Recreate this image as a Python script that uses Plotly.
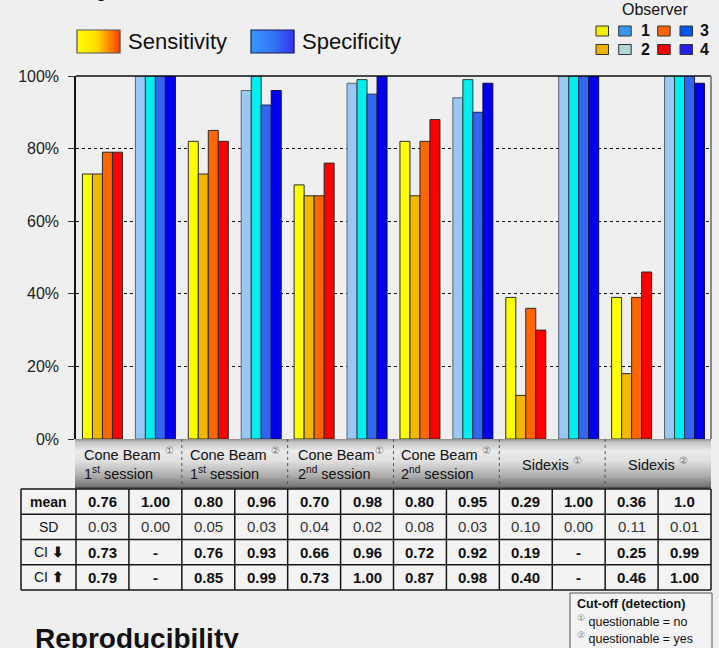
import plotly.graph_objects as go

# ---------------- data ----------------
group_line1 = [
    "Cone Beam <sup><span style='color:#777'>①</span></sup>",
    "Cone Beam <sup><span style='color:#777'>②</span></sup>",
    "Cone Beam<sup><span style='color:#777'>①</span></sup>",
    "Cone Beam <sup><span style='color:#777'>②</span></sup>",
    "Sidexis <sup><span style='color:#777'>①</span></sup>",
    "Sidexis <sup><span style='color:#777'>②</span></sup>",
]
group_line2 = [
    "1<sup>st</sup> session",
    "1<sup>st</sup> session",
    "2<sup>nd</sup> session",
    "2<sup>nd</sup> session",
    "",
    "",
]
observers = ["1", "2", "3", "4"]
sensitivity = {
    "1": [73, 82, 70, 82, 39, 39],
    "2": [73, 73, 67, 67, 12, 18],
    "3": [79, 85, 67, 82, 36, 39],
    "4": [79, 82, 76, 88, 30, 46],
}
specificity = {
    "1": [100, 96, 98, 94, 100, 100],
    "2": [100, 100, 99, 99, 100, 100],
    "3": [100, 92, 95, 90, 100, 100],
    "4": [100, 96, 100, 98, 100, 98],
}
row_labels = ["<b>mean</b>", "SD", "CI <b>⬇</b>", "CI <b>⬆</b>"]
mean_row = ["0.76", "1.00", "0.80", "0.96", "0.70", "0.98", "0.80", "0.95", "0.29", "1.00", "0.36", "1.0"]
sd_row = ["0.03", "0.00", "0.05", "0.03", "0.04", "0.02", "0.08", "0.03", "0.10", "0.00", "0.11", "0.01"]
ci_low_row = ["0.73", "-", "0.76", "0.93", "0.66", "0.96", "0.72", "0.92", "0.19", "-", "0.25", "0.99"]
ci_high_row = ["0.79", "-", "0.85", "0.99", "0.73", "1.00", "0.87", "0.98", "0.40", "-", "0.46", "1.00"]
y_ticks = [0, 20, 40, 60, 80, 100]
y_tick_labels = ["0%", "20%", "40%", "60%", "80%", "100%"]

# ---------------- styling ----------------
sens_colors = {"1": "#ffff00", "2": "#f2b800", "3": "#ff6600", "4": "#ff0000"}
spec_colors = {"1": "#99c8f2", "2": "#00eeee", "3": "#3366ee", "4": "#0000ee"}
sens_edge = "#2a2a2a"
spec_edge = {"1": "#5a6470", "2": "#1f3f3f", "3": "#1a2a55", "4": "#101040"}
FONT = "Arial, Liberation Sans, sans-serif"
BG = "#efefef"

W, H = 719, 648
L, R, T, B = 76, 8, 76, 209
PW, PH = W - L - R, H - T - B


def px(x):
    return (x - L) / PW


def py(y):
    return (H - B - y) / PH


def hex2rgb(h):
    h = h.lstrip("#")
    return tuple(int(h[i:i + 2], 16) for i in (0, 2, 4))


def interp(stops, t):
    for (t0, c0), (t1, c1) in zip(stops[:-1], stops[1:]):
        if t0 <= t <= t1:
            f = 0 if t1 == t0 else (t - t0) / (t1 - t0)
            a, b = hex2rgb(c0), hex2rgb(c1)
            return "rgb(%d,%d,%d)" % tuple(round(a[i] + (b[i] - a[i]) * f) for i in range(3))
    return stops[-1][1]


fig = go.Figure()

n_groups = len(group_line1)
slots = list(range(2 * n_groups))
for o in observers:
    vals, cols, edges = [], [], []
    for g in range(n_groups):
        vals += [sensitivity[o][g], specificity[o][g]]
        cols += [sens_colors[o], spec_colors[o]]
        edges += [sens_edge, spec_edge[o]]
    fig.add_bar(
        x=slots, y=vals, name="Observer " + o, showlegend=False,
        marker=dict(color=cols, line=dict(color=edges, width=1)),
    )

shapes = []
annotations = []


def rect(x0, y0, x1, y1, fill, line=None, lw=0):
    shapes.append(dict(type="rect", xref="paper", yref="paper",
                       x0=px(x0), x1=px(x1), y0=py(y1), y1=py(y0),
                       fillcolor=fill, line=dict(color=line or fill, width=lw), layer="above"))


def hline(x0, x1, y, color, w, dash="solid"):
    shapes.append(dict(type="line", xref="paper", yref="paper",
                       x0=px(x0), x1=px(x1), y0=py(y), y1=py(y),
                       line=dict(color=color, width=w, dash=dash), layer="above"))


def vline(x, y0, y1, color, w, dash="solid"):
    shapes.append(dict(type="line", xref="paper", yref="paper",
                       x0=px(x), x1=px(x), y0=py(y0), y1=py(y1),
                       line=dict(color=color, width=w, dash=dash), layer="above"))


def text(t, x, y, size, color="#111", xanchor="center", align="center", family=FONT):
    annotations.append(dict(text=t, xref="paper", yref="paper", x=px(x), y=py(y),
                            xanchor=xanchor, yanchor="middle", align=align, showarrow=False,
                            font=dict(family=family, size=size, color=color)))


# frame lines of the plot area
hline(L, W - R, T, "#111", 1.5)
vline(W - R, T, H - B, "#8a8a8a", 2)

# grey cylinder band holding the category labels
band_top, band_bot = H - B, 488
band_stops = [(0, "#8a8a8a"), (0.06, "#c2c2c2"), (0.25, "#ebebeb"), (0.45, "#e0e0e0"),
              (0.75, "#adadad"), (1, "#6c6c6c")]
nb = band_bot - band_top
for i in range(nb):
    rect(L - 1, band_top + i, W - R, band_top + i + 1.2, interp(band_stops, (i + 0.5) / nb))
hline(L - 1, W - R, band_bot, "#333", 1)
slot_w = PW / (2 * n_groups)
for g in range(1, n_groups):
    vline(L + 2 * g * slot_w, band_top, band_bot, "#555", 1, "dot")
for g in range(n_groups):
    cx = L + (2 * g + 1) * slot_w
    if group_line2[g]:
        txt = group_line1[g] + "<br>" + group_line2[g]
    else:
        txt = group_line1[g]
    annotations.append(dict(text=txt, xref="paper", yref="paper", x=px(cx), y=py(464),
                            xanchor="center", yanchor="middle", align="left", showarrow=False,
                            font=dict(family=FONT, size=14.5, color="#111")))

# statistics table
tab_left = 21
row_h = 25.25
tab_top = 489
rows = [mean_row, sd_row, ci_low_row, ci_high_row]
rect(tab_left, tab_top, W - R, tab_top + 4 * row_h, "#f3f3f3")
for r in range(5):
    hline(tab_left, W - R, tab_top + r * row_h, "#161616", 1.5)
vline(tab_left, tab_top, tab_top + 4 * row_h, "#161616", 1.5)
for k in range(2 * n_groups + 1):
    vline(L + k * slot_w, tab_top, tab_top + 4 * row_h, "#161616", 1.5)
for r, row in enumerate(rows):
    yc = tab_top + (r + 0.5) * row_h
    text(row_labels[r], (tab_left + L) / 2, yc, 14, "#111")
    for k, v in enumerate(row):
        if r == 1:
            text(v, L + (k + 0.5) * slot_w, yc, 15, "#333")
        else:
            text("<b>" + v + "</b>", L + (k + 0.5) * slot_w, yc, 15, "#111")

# Sensitivity / Specificity swatches
sens_stops = [(0, "#ffff00"), (0.45, "#ffdd00"), (0.8, "#ff7a00"), (1, "#ff3a00")]
spec_stops = [(0, "#3399ff"), (0.5, "#3377f8"), (1, "#3333ee")]
for x0, stops, edge in [(77, sens_stops, "#555"), (251, spec_stops, "#1a1a50")]:
    wbox = 43
    for i in range(wbox):
        rect(x0 + i, 30, x0 + i + 1.2, 53, interp(stops, (i + 0.5) / wbox))
    shapes.append(dict(type="rect", xref="paper", yref="paper",
                       x0=px(x0), x1=px(x0 + wbox), y0=py(53), y1=py(30),
                       line=dict(color=edge, width=1.2), layer="above"))
text("Sensitivity", 126, 42, 22, "#111", xanchor="left")
text("Specificity", 300, 42, 22, "#111", xanchor="left")

# Observer key
text("Observer", 655, 10, 16, "#111")
key = [
    (596, 26, "#f0f000"), (618.7, 26, "#3399ee"), (657.7, 26, "#ff6600"), (680, 26, "#0055ee"),
    (596, 44.5, "#f0b000"), (618.7, 44.5, "#b0d6d8"), (657.7, 44.5, "#ee0000"), (680, 44.5, "#2222ee"),
]
for x0, y0, c in key:
    rect(x0, y0, x0 + 12.5, y0 + 10, c, "#333", 1)
for num, x, y in [("1", 645, 31), ("3", 704.5, 31), ("2", 645, 49.5), ("4", 704.5, 49.5)]:
    text("<b>" + num + "</b>", x, y, 16, "#111")

# cut-off note
shapes.append(dict(type="rect", xref="paper", yref="paper",
                   x0=px(570), x1=px(712), y0=py(652), y1=py(593),
                   fillcolor="#f3f3f3", line=dict(color="#555", width=1), layer="above"))
text("<b>Cut-off (detection)</b>", 575, 604, 12.5, "#111", xanchor="left")
text("<sup><span style='color:#777'>①</span></sup> questionable = no", 575, 621, 12.5, "#111", xanchor="left")
text("<sup><span style='color:#777'>②</span></sup> questionable = yes", 575, 638, 12.5, "#111", xanchor="left")

# slide headings
text("<b>Study</b>", 33, -14, 28, "#111", xanchor="left")
text("<b>Reproducibility</b>", 33, 638.5, 28, "#111", xanchor="left")

fig.update_layout(
    width=W, height=H,
    margin=dict(l=L, r=R, t=T, b=B, pad=0),
    paper_bgcolor=BG, plot_bgcolor=BG,
    barmode="group", bargap=0.244, bargroupgap=0,
    shapes=shapes, annotations=annotations,
    font=dict(family=FONT, color="#222"),
)
fig.update_xaxes(range=[-0.5, 2 * n_groups - 0.5], showticklabels=False, showgrid=False,
                 zeroline=False, showline=False, ticks="")
fig.update_yaxes(range=[0, 100], tickmode="array", tickvals=y_ticks, ticktext=y_tick_labels,
                 showgrid=True, gridcolor="#111", griddash="dot", gridwidth=1,
                 zeroline=False, showline=True, linecolor="#111", linewidth=1.5,
                 ticks="outside", ticklen=6, tickcolor="#333", ticklabelstandoff=6,
                 tickfont=dict(family=FONT, size=16, color="#222"))

fig.write_html("out.html")
